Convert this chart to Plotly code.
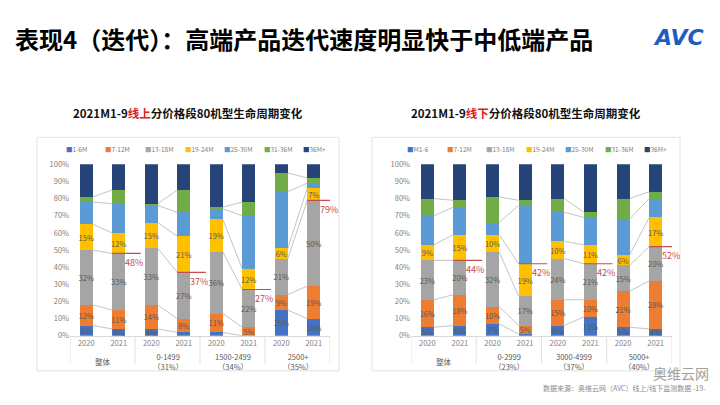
import plotly.graph_objects as go

# ---------------- data ----------------
series_names_online = ["1-6M", "7-12M", "13-18M", "19-24M", "25-30M", "31-36M", "36M+"]
series_names_offline = ["M1-6", "7-12M", "13-18M", "19-24M", "25-30M", "31-36M", "36M+"]
years = ["2020", "2021", "2020", "2021", "2020", "2021", "2020", "2021"]
groups_online = ["整体", "0-1499<br>（31%）", "1500-2499<br>（34%）", "2500+<br>（35%）"]
groups_offline = ["整体", "0-2999<br>（23%）", "3000-4999<br>（37%）", "5000+<br>（40%）"]

online_1_6 = [6, 4, 4, 2, 2, 0, 15, 10]
online_7_12 = [12, 11, 14, 8, 11, 5, 9, 19]
online_13_18 = [32, 33, 33, 27, 36, 22, 21, 50]
online_19_24 = [15, 12, 15, 21, 19, 12, 6, 7]
online_25_30 = [13, 17, 10, 14, 6, 31, 33, 3]
online_31_36 = [3, 8, 1, 13, 1, 8, 11, 3]
online_36p = [19, 15, 23, 15, 25, 22, 5, 8]

offline_1_6 = [5, 6, 7, 1, 6, 11, 5, 4]
offline_7_12 = [16, 18, 10, 5, 15, 10, 21, 28]
offline_13_18 = [23, 20, 32, 17, 24, 21, 15, 20]
offline_19_24 = [9, 15, 10, 19, 10, 11, 6, 17]
offline_25_30 = [17, 16, 7, 34, 17, 16, 21, 11]
offline_31_36 = [10, 4, 15, 3, 8, 3, 12, 4]
offline_36p = [20, 21, 19, 21, 20, 28, 20, 16]

# highlighted share (red marker) on each 2021 bar
online_marked = [48, 37, 27, 79]
offline_marked = [44, 42, 42, 52]

colors = ["#4472C4", "#ED7D31", "#A5A5A5", "#FFC000", "#5B9BD5", "#70AD47", "#264478"]

W, H = 720, 405
def px(x):
    return x / W
def py(y):
    return 1 - y / H

online = [online_1_6, online_7_12, online_13_18, online_19_24, online_25_30, online_31_36, online_36p]
offline = [offline_1_6, offline_7_12, offline_13_18, offline_19_24, offline_25_30, offline_31_36, offline_36p]

fig = go.Figure()
FONT = "Noto Sans CJK SC"
xpos = list(range(8))

charts = [
    dict(data=online, names=series_names_online, groups=groups_online, marked=online_marked,
         xa="x", ya="y", panel=(37, 339),
         title="2021M1-9<span style='color:#E0201B'>线上</span>分价格段80机型生命周期变化",
         legend_x0=64),
    dict(data=offline, names=series_names_offline, groups=groups_offline, marked=offline_marked,
         xa="x2", ya="y2", panel=(372, 680),
         title="2021M1-9<span style='color:#E0201B'>线下</span>分价格段80机型生命周期变化",
         legend_x0=405),
]

shapes = []
annotations = []

def ann(**kw):
    kw.setdefault("showarrow", False)
    kw.setdefault("xanchor", "center")
    kw.setdefault("yanchor", "middle")
    annotations.append(kw)

for c in charts:
    # panels
    shapes.append(dict(type="rect", xref="paper", yref="paper",
                       x0=px(c["panel"][0]), x1=px(c["panel"][1]), y0=py(375), y1=py(135),
                       line=dict(color="#E3E3E3", width=1), fillcolor="white", layer="below"))
    for i, vals in enumerate(c["data"]):
        txt = [f"{v}%" if (i < 4 and v >= 3) else "" for v in vals]
        fig.add_trace(go.Bar(
            x=xpos, y=vals, name=c["names"][i], marker=dict(color=colors[i], line=dict(width=0)),
            width=0.4, text=txt, textposition="inside", insidetextanchor="middle",
            textangle=0, textfont=dict(size=7.5, color="#595959", family=FONT),
            xaxis=c["xa"], yaxis=c["ya"], showlegend=False, hoverinfo="skip"))
    # series connector lines
    lx, ly = [], []
    for g in range(4):
        a, b = 2 * g, 2 * g + 1
        ca = cb = 0
        for s in range(6):
            ca += c["data"][s][a]
            cb += c["data"][s][b]
            lx += [a + 0.2, b - 0.2, None]
            ly += [ca, cb, None]
    fig.add_trace(go.Scatter(x=lx, y=ly, mode="lines", line=dict(color="#B4B4B4", width=0.8),
                             xaxis=c["xa"], yaxis=c["ya"], showlegend=False, hoverinfo="skip"))
    # red markers
    rx, ry = [], []
    for g, m in enumerate(c["marked"]):
        b = 2 * g + 1
        rx += [b - 0.2, b + 0.68, None]
        ry += [m, m, None]
        ann(x=b + 0.47, y=m, xref=c["xa"], yref=c["ya"], text=f"{m}%", yshift=-9,
            font=dict(size=9, color="#C0504D", family=FONT))
    fig.add_trace(go.Scatter(x=rx, y=ry, mode="lines", line=dict(color="#C0504D", width=1.2),
                             xaxis=c["xa"], yaxis=c["ya"], showlegend=False, hoverinfo="skip"))
    # category boxes
    for bx in [-0.5, 1.5, 3.5, 5.5, 7.5]:
        shapes.append(dict(type="line", xref=c["xa"], yref="paper", x0=bx, x1=bx,
                           y0=py(339), y1=py(368), line=dict(color="#D9D9D9", width=0.8)))
    for g, gl in enumerate(c["groups"]):
        ann(x=2 * g + 0.5, y=py(365), xref=c["xa"], yref="paper", text=gl,
            font=dict(size=7.5, color="#595959", family=FONT))
    # chart title
    cx = (c["panel"][0] + c["panel"][1]) / 2
    ann(x=px(cx), y=py(110), xref="paper", yref="paper", text="<b>" + c["title"] + "</b>",
        font=dict(size=11.5, color="#111111", family=FONT))
    # legend (manual)
    for i, nm in enumerate(c["names"]):
        ann(x=px(c["legend_x0"] + i * 39.5), y=py(147), xref="paper", yref="paper", xanchor="left",
            text=f"<span style='color:{colors[i]}'>■</span>{nm}",
            font=dict(size=6.5, color="#7F7F7F", family=FONT))

axis_common_x = dict(range=[-0.5, 7.5], tickvals=xpos, ticktext=years, showgrid=False,
                     showline=True, linecolor="#D9D9D9", linewidth=1, ticks="",
                     tickfont=dict(size=7.5, color="#7F7F7F", family=FONT), zeroline=False, fixedrange=True)
axis_common_y = dict(range=[0, 100], tickvals=list(range(0, 101, 10)),
                     ticktext=[f"{v}%" for v in range(0, 101, 10)], showgrid=False, zeroline=False,
                     tickfont=dict(size=7.5, color="#7F7F7F", family=FONT), ticks="", showline=False,
                     fixedrange=True)

# main title, logo, footer
ann(x=px(13), y=py(33), xref="paper", yref="paper", xanchor="left",
    text="<b>表现4（迭代）：高端产品迭代速度明显快于中低端产品</b>",
    font=dict(size=24, color="#000000", family=FONT))
ann(x=px(678), y=py(32), xref="paper", yref="paper",
    text="<b><i>AVC</i></b>", font=dict(size=22, color="#1F5CC0", family="DejaVu Sans"))
ann(x=px(708), y=py(393), xref="paper", yref="paper", xanchor="right",
    text="数据来源：奥维云网（AVC）线上/线下监测数据 -19-",
    font=dict(size=7, color="#8C8C8C", family=FONT))
ann(x=px(681), y=py(377), xref="paper", yref="paper",
    text="奥维云网", font=dict(size=14, color="#A0A0A0", family=FONT))

fig.update_layout(
    width=W, height=H, margin=dict(l=0, r=0, t=0, b=0),
    paper_bgcolor="white", plot_bgcolor="rgba(0,0,0,0)",
    barmode="stack", bargap=0.6, showlegend=False,
    uniformtext=dict(minsize=7, mode="show"),
    xaxis=dict(domain=[px(70), px(330)], anchor="y", **axis_common_x),
    yaxis=dict(domain=[py(339), py(162.7)], anchor="x", **axis_common_y),
    xaxis2=dict(domain=[px(411), px(672)], anchor="y2", **axis_common_x),
    yaxis2=dict(domain=[py(339), py(162.7)], anchor="x2", **axis_common_y),
    shapes=shapes, annotations=annotations,
    font=dict(family=FONT),
)

fig.write_html("out.html", config={"displayModeBar": False},
               post_script="document.body.style.margin='0px';document.body.style.overflow='hidden';")
